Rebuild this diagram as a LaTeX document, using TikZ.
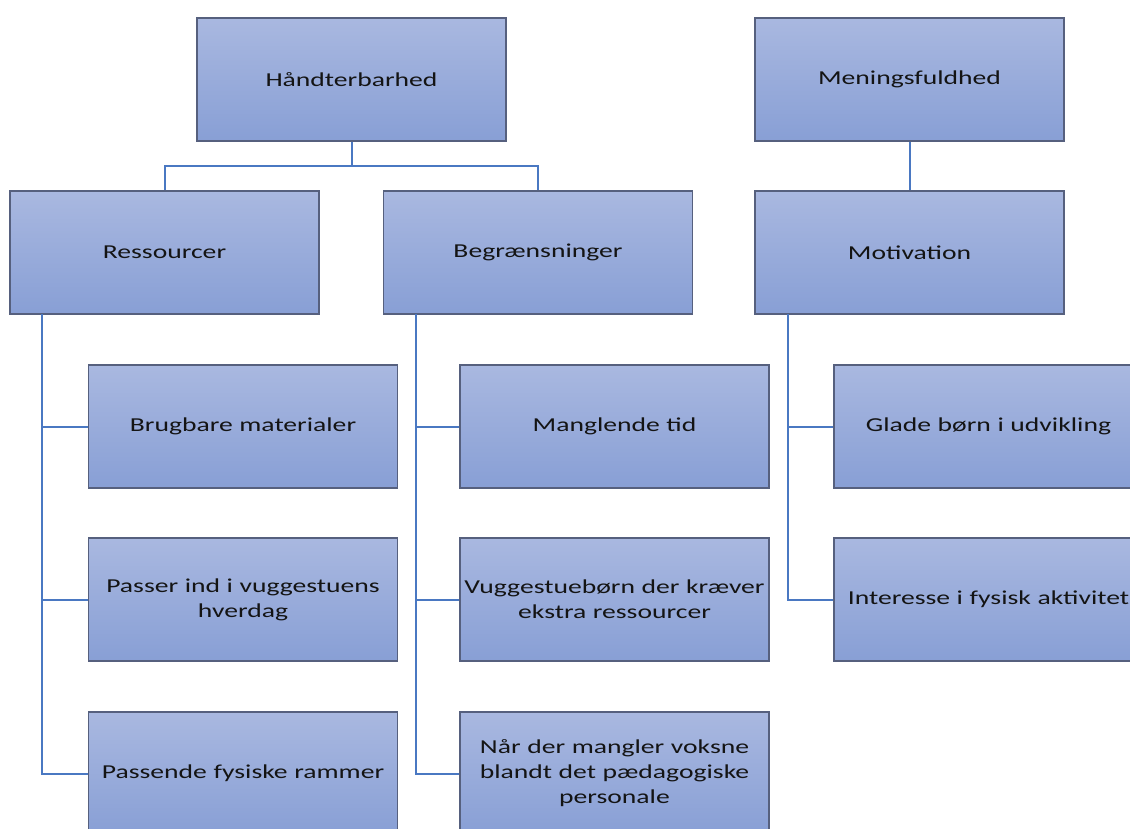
\documentclass[tikz,border=0pt]{standalone}
\usepackage{fontspec}
\setmainfont{Carlito}[FakeStretch=1.4]
\usetikzlibrary{calc}
\definecolor{boxtop}{HTML}{A9B8E0}
\definecolor{boxbot}{HTML}{889FD5}
\definecolor{boxline}{HTML}{56607E}
\definecolor{conn}{HTML}{4A78C2}
\definecolor{txt}{HTML}{141414}
\tikzset{
  box/.style={rectangle, draw=boxline, line width=0.9pt, top color=boxtop, bottom color=boxbot,
    minimum width=231.75pt, minimum height=92.25pt, inner sep=0pt, text width=228pt, align=center,
    text=txt, font=\fontsize{14.8}{18.8}\selectfont},
  link/.style={draw=conn, line width=1.5pt}
}
\begin{document}
\begin{tikzpicture}[x=0.75pt,y=-0.75pt]
\clip (0,0) rectangle (1130,828);
\fill[white] (0,0) rectangle (1130,828);
\coordinate (hj) at (351.5,166);
\coordinate (rs) at (42,314);
\coordinate (bs) at (416,314);
\coordinate (ms) at (788,314);
\node[box] (H) at (351.5,79.5) {Håndterbarhed};
\node[box] (M) at (909.5,79.5) {Meningsfuldhed};
\node[box] (R) at (164.5,252.5) {Ressourcer};
\node[box] (B) at (538,252.5) {Begrænsninger};
\node[box] (Mo) at (909.5,252.5) {Motivation};
\node[box] (b1) at (243,426.5) {Brugbare materialer};
\node[box] (b2) at (243,599.5) {Passer ind i vuggestuens\\hverdag};
\node[box] (b3) at (243,773.5) {Passende fysiske rammer};
\node[box] (c1) at (614.5,426.5) {Manglende tid};
\node[box] (c2) at (614.5,599.5) {Vuggestuebørn der kræver\\ekstra ressourcer};
\node[box] (c3) at (614.5,773.5) {Når der mangler voksne\\blandt det pædagogiske\\personale};
\node[box] (d1) at (988.5,426.5) {Glade børn i udvikling};
\node[box] (d2) at (988.5,599.5) {Interesse i fysisk aktivitet};
\draw[link] (H.south) -- (hj) -| (R.north);
\draw[link] (hj) -| (B.north);
\draw[link] (M.south) -- (Mo.north);
\draw[link] (rs) |- (b1.west);
\draw[link] (rs) |- (b2.west);
\draw[link] (rs) |- (b3.west);
\draw[link] (bs) |- (c1.west);
\draw[link] (bs) |- (c2.west);
\draw[link] (bs) |- (c3.west);
\draw[link] (ms) |- (d1.west);
\draw[link] (ms) |- (d2.west);
\end{tikzpicture}
\end{document}
